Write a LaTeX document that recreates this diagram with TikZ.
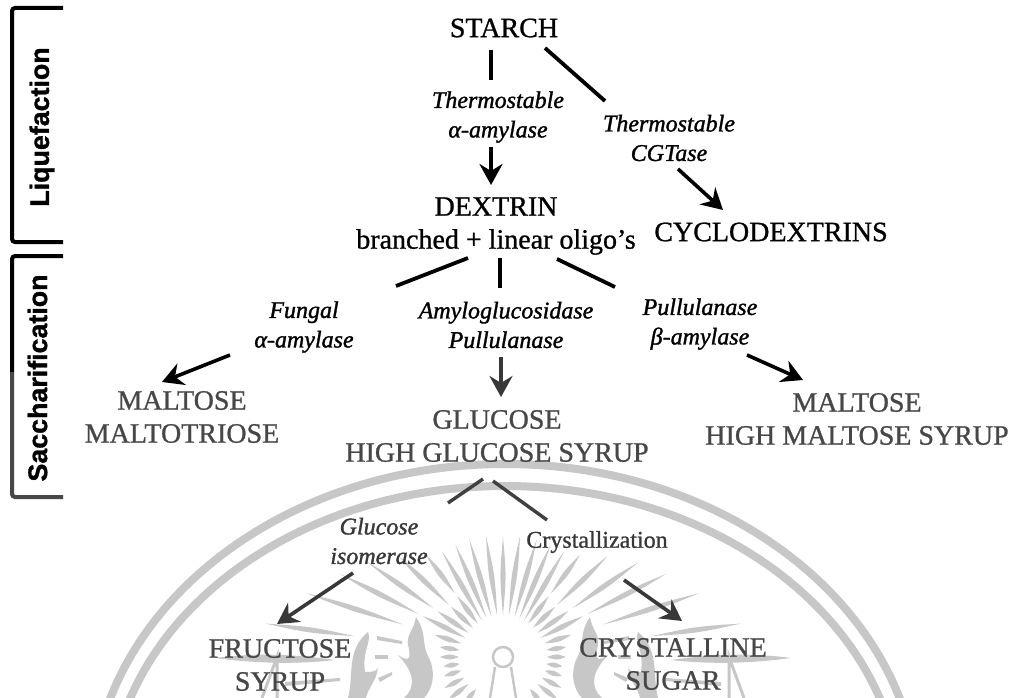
\documentclass[tikz,border=0pt]{standalone}
\usepackage{fontspec}
\setmainfont[FakeBold=0.9,ItalicFont={Liberation Serif Italic},ItalicFeatures={FakeBold=1.3}]{Liberation Serif}
\newfontfamily\brk[BoldFeatures={FakeBold=1.2}]{Liberation Sans}
\usetikzlibrary{arrows.meta}
\definecolor{wm}{gray}{0.78}
\tikzset{
 x=1pt,y=-1pt,
 big/.style={inner sep=0pt,align=center,font=\fontsize{28}{33}\selectfont,text=black},
 bigfade/.style={big,text=black!72},
 enz/.style={inner sep=0pt,align=center,font=\fontsize{24}{29.5}\selectfont\itshape,text=black},
 enzfade/.style={enz,text=black!78},
 crys/.style={inner sep=0pt,font=\fontsize{24}{24}\selectfont,text=black!78},
 stage/.style={inner sep=0pt,rotate=90,font=\brk\bfseries\fontsize{26.8}{26.8}\selectfont,text=black},
 conn/.style={line width=3.8pt,black},
 connfade/.style={line width=3.4pt,black!75},
 arr/.style={line width=3.6pt,black,-{Stealth[length=21pt,width=23pt,inset=7pt]}},
 arrfade/.style={arr,black!78},
 bar/.style={line width=4pt,black,rounded corners=3pt},
 band/.style={wm,line width=8pt},
}
\newcommand{\ray}[3]{\begin{scope}[shift={(503,657)},rotate=#1]
 \fill[wm] (#2,0) .. controls ({(#2+#3)/2},3.4) .. (#3,0) .. controls ({(#2+#3)/2},-3.4) .. cycle;
 \end{scope}}
\newcommand{\flameset}{
 \fill[wm] (416,617) .. controls (428,635) and (420,642) .. (430,660) .. controls (436,675) and (432,690) .. (424,698) -- (404,698) .. controls (418,685) and (412,670) .. (398,655) .. controls (408,662) and (412,660) .. (408,645) .. controls (406,635) and (414,630) .. (416,617) -- cycle;
 \fill[wm] (368,632) .. controls (372,642) and (362,650) .. (365,672) .. controls (370,672) and (376,672) .. (378,668) .. controls (376,682) and (368,688) .. (366,698) -- (348,698) .. controls (354,675) and (346,650) .. (368,632) -- cycle;
 \fill[wm] (377,636) -- (402,641) -- (402,644) -- (377,640) -- cycle;
 \fill[wm] (375,655) -- (388,655) -- (388,659) -- (375,659) -- cycle;
 \fill[wm] (378,678) -- (392,672) -- (392,675) -- (380,682) -- cycle;
 \draw[wm,line width=3pt] (277,698) -- (277,657) -- (262,698);
 \fill[wm] (215,658) .. controls (260,652) and (300,655) .. (335,660) .. controls (300,664) and (260,664) .. (215,658) -- cycle;
 \fill[wm] (285,682) -- (340,678) -- (340,681) -- (285,686) -- cycle;
}
\begin{document}
\begin{tikzpicture}
\useasboundingbox (0,0) rectangle (1017,698);
\fill[white] (0,0) rectangle (1017,698);
% watermark
\begin{scope}
\clip (0,0) rectangle (1017,698);
\draw[band] (505,800) ellipse (414 and 336);
\draw[band] (505,800) ellipse (396 and 314);
\foreach \a/\b/\c in {8/150/240,18/105/207,27/95/183,35/85/165,44/75/145,53/80/128,60/42/122,67/42/122,74/42/122,82/42/122,90/42/120,98/42/122,106/42/122,113/42/122,120/42/122,127/80/128,136/75/145,145/85/165,153/95/183,162/105/207,172/150/240}{\ray{\a}{\b}{\c}}
\foreach \a/\b/\c in {53/42/76,44/42/72,35/42/80,27/42/90,18/44/72,9/44/64,0/44/63,-9/44/60,-18/44/62,-28/44/66,-38/44/70,-50/42/60,127/42/76,136/42/72,145/42/80,153/42/90,162/44/72,171/44/64,180/44/63,189/44/60,198/44/62,208/44/66,218/44/70,230/42/60}{\ray{\a}{\b}{\c}}
\draw[wm,line width=2.5pt] (503,657) ellipse (10 and 10);
\draw[wm,line width=2.5pt] (495,667) -- (490,698) (511,667) -- (516,698);
\flameset
\begin{scope}[shift={(1006,0)},xscale=-1]
\flameset
\end{scope}
\end{scope}
% text nodes
\node[big] (starch) at (504,28) {STARCH};
\node[enz] (ta) at (498,117) {Thermostable\\α-amylase};
\node[enz] (tc) at (669,138) {Thermostable\\CGTase};
\node[big] (dextrin) at (496,226) {DEXTRIN\\branched + linear oligo’s};
\node[big] (cyclo) at (771,232) {CYCLODEXTRINS};
\node[enz] (fungal) at (304,327) {Fungal\\α-amylase};
\node[enz] (amg) at (506,325) {Amyloglucosidase\\Pullulanase};
\node[enz] (pb) at (700,324) {Pullulanase\\β-amylase};
\node[bigfade] (mm) at (182,417) {MALTOSE\\MALTOTRIOSE};
\node[bigfade] (gg) at (497,436) {GLUCOSE\\HIGH GLUCOSE SYRUP};
\node[bigfade] (mh) at (857,419) {MALTOSE\\HIGH MALTOSE SYRUP};
\node[enzfade] (gi) at (379,541) {Glucose\\isomerase};
\node[crys] (cr) at (597,542) {Crystallization};
\node[bigfade] (fs) at (280,665) {FRUCTOSE\\SYRUP};
\node[bigfade] (cs) at (673,664) {CRYSTALLINE\\SUGAR};
\node[stage] (liq) at (42,127) {Liquefaction};
\node[stage] (sac) at (37.5,378) {Saccharification};
% brackets
\coordinate (l1) at (63,8); \coordinate (l2) at (12,8); \coordinate (l3) at (12,242); \coordinate (l4) at (63,242);
\draw[bar] (l1) -- (l2) -- (l3) -- (l4);
\coordinate (s1) at (63,256); \coordinate (s2) at (12,256); \coordinate (s3) at (12,372); \coordinate (s4) at (12,497); \coordinate (s5) at (63,497);
\draw[bar] (s1) -- (s2) -- (s3);
\draw[bar,black!72] (s3) -- (s4) -- (s5);
% connectors
\coordinate (a1) at (491,50); \coordinate (a2) at (491,80);
\draw[conn] (a1) -- (a2);
\coordinate (a3) at (491,147); \coordinate (a4) at (491,185);
\draw[arr] (a3) -- (a4);
\coordinate (b1) at (545,48); \coordinate (b2) at (605,101);
\draw[conn] (b1) -- (b2);
\coordinate (b3) at (678,169); \coordinate (b4) at (723,210);
\draw[arr] (b3) -- (b4);
\coordinate (c1) at (468,258); \coordinate (c2) at (396,286);
\draw[conn] (c1) -- (c2);
\coordinate (c3) at (500,258); \coordinate (c4) at (500,288);
\draw[conn] (c3) -- (c4);
\coordinate (c5) at (557,259); \coordinate (c6) at (615,287);
\draw[conn] (c5) -- (c6);
\coordinate (d1) at (230,355); \coordinate (d2) at (162,382);
\draw[arr] (d1) -- (d2);
\coordinate (d3) at (501,357); \coordinate (d4) at (501,397);
\draw[arrfade] (d3) -- (d4);
\coordinate (d5) at (747,355); \coordinate (d6) at (803,380);
\draw[arr] (d5) -- (d6);
\coordinate (e1) at (483,479); \coordinate (e2) at (448,503);
\draw[connfade] (e1) -- (e2);
\coordinate (e3) at (493,481); \coordinate (e4) at (547,520);
\draw[connfade] (e3) -- (e4);
\coordinate (e5) at (353,573); \coordinate (e6) at (277,624);
\draw[arrfade] (e5) -- (e6);
\coordinate (e7) at (624,580); \coordinate (e8) at (682,621);
\draw[arrfade] (e7) -- (e8);
\end{tikzpicture}
\end{document}
